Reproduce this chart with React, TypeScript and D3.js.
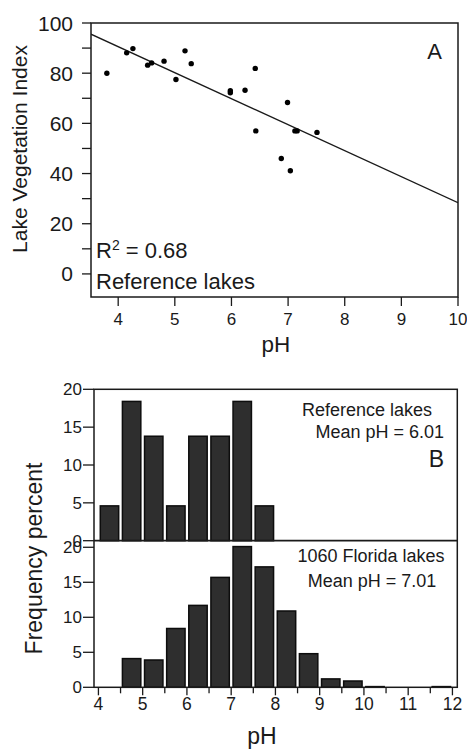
import React from "react";
import * as d3 from "d3";

// Panel A data: reference lakes
const refPH = [3.8, 4.15, 4.26, 4.52, 4.59, 4.81, 5.02, 5.18, 5.29, 5.98, 5.98, 6.24, 6.42, 6.43, 6.99, 6.88, 7.04, 7.12, 7.16, 7.51];
const refLVI = [80, 88.1, 89.8, 83.2, 84.1, 84.8, 77.5, 88.9, 83.8, 73.0, 72.2, 73.2, 81.9, 57.0, 68.3, 46.0, 41.1, 57.0, 57.0, 56.4];
const fitIntercept = 132.0;
const fitSlope = -10.36;
const aYTicks = [0, 10, 20, 30, 40, 50, 60, 70, 80, 90, 100];
const aXTicks = [4, 5, 6, 7, 8, 9, 10];

// Panel B data: histograms (bins of 0.5 pH starting at bin start)
const refBinStart = [4.0, 4.5, 5.0, 5.5, 6.0, 6.5, 7.0, 7.5];
const refFreq = [4.6, 18.4, 13.8, 4.6, 13.8, 13.8, 18.4, 4.6];
const flBinStart = [4.5, 5.0, 5.5, 6.0, 6.5, 7.0, 7.5, 8.0, 8.5, 9.0, 9.5, 10.0, 10.5, 11.0, 11.5];
const flFreq = [4.1, 3.9, 8.4, 11.7, 15.7, 20.1, 17.2, 10.9, 4.8, 1.2, 0.9, 0.1, 0, 0, 0.1];
const bYTicks = [0, 5, 10, 15, 20];
const bXTicks = [4, 5, 6, 7, 8, 9, 10, 11, 12];
const bXMinor = [4.5, 5.5, 6.5, 7.5, 8.5, 9.5, 10.5, 11.5];

const FONT = "'Liberation Sans', Arial, Helvetica, sans-serif";
const INK = "#1a1a1a";

export default function App() {
  // Panel A scales
  const ax = d3.scaleLinear().domain([3.52, 10]).range([91, 458]);
  const ay = d3.scaleLinear().domain([-9.2, 100]).range([297, 23]);
  const lineGen = d3
    .line<number>()
    .x((d) => ax(d))
    .y((d) => ay(fitIntercept + fitSlope * d));
  const fitPath = lineGen(ax.domain()) || "";

  // Panel B scales
  const bx = d3.scaleLinear().domain([3.9, 12.11]).range([94, 457.3]);
  const byTop = d3.scaleLinear().domain([0, 20]).range([540.7, 389.3]);
  const byBot = d3.scaleLinear().domain([0, 20.94]).range([687.3, 540.7]);
  const binW = 0.5;
  const inset = 0.042;

  return (
    <svg width={467} height={749} style={{ display: "block", position: "absolute", left: 0, top: 0 }} fontFamily={FONT}>
      <rect x={0} y={0} width={467} height={749} fill="#fff" />

      {/* ---------- Panel A ---------- */}
      <rect x={ax.range()[0]} y={ay.range()[1]} width={ax.range()[1] - ax.range()[0]} height={ay.range()[0] - ay.range()[1]} fill="none" stroke={INK} strokeWidth={1.5} />
      {aYTicks.map((t) => (
        <g key={"ayt" + t}>
          <line x1={ax.range()[0] - 9} x2={ax.range()[0]} y1={ay(t)} y2={ay(t)} stroke={INK} strokeWidth={1.3} />
          {t % 20 === 0 && (
            <text x={73} y={ay(t)} dy="0.36em" textAnchor="end" fontSize={21} fill={INK}>
              {t}
            </text>
          )}
        </g>
      ))}
      {aXTicks.map((t) => (
        <g key={"axt" + t}>
          <line x1={ax(t)} x2={ax(t)} y1={ay.range()[0]} y2={ay.range()[0] + 9} stroke={INK} strokeWidth={1.3} />
          <text x={ax(t)} y={325} textAnchor="middle" fontSize={17} fill={INK}>
            {t}
          </text>
        </g>
      ))}
      <defs>
        <clipPath id="clipA">
          <rect x={ax.range()[0]} y={ay.range()[1]} width={ax.range()[1] - ax.range()[0]} height={ay.range()[0] - ay.range()[1]} />
        </clipPath>
      </defs>
      <path d={fitPath} fill="none" stroke={INK} strokeWidth={1.3} clipPath="url(#clipA)" />
      {refPH.map((p, i) => (
        <circle key={"pt" + i} cx={ax(p)} cy={ay(refLVI[i])} r={2.7} fill="#000" />
      ))}
      <text x={442} y={59} textAnchor="end" fontSize={22} fill={INK}>A</text>
      <text x={96} y={258} fontSize={22} fill={INK}>
        R<tspan dy={-8} fontSize={14}>2</tspan>
        <tspan dy={8}> = 0.68</tspan>
      </text>
      <text x={96} y={288.5} fontSize={22} fill={INK}>Reference lakes</text>
      <text x={276} y={351.5} textAnchor="middle" fontSize={22.5} fill={INK}>pH</text>
      <text transform="translate(27,149) rotate(-90)" textAnchor="middle" fontSize={21} fill={INK}>
        Lake Vegetation Index
      </text>

      {/* ---------- Panel B ---------- */}
      {refBinStart.map((b, i) => (
        <rect
          key={"rb" + i}
          x={bx(b + inset)}
          y={byTop(refFreq[i])}
          width={bx(b + binW - inset) - bx(b + inset)}
          height={byTop(0) - byTop(refFreq[i])}
          fill="#2e2e2e"
          stroke="#0d0d0d"
          strokeWidth={1.5}
        />
      ))}
      {flBinStart.map((b, i) => (
        <rect
          key={"fb" + i}
          x={bx(b + inset)}
          y={byBot(flFreq[i])}
          width={bx(b + binW - inset) - bx(b + inset)}
          height={byBot(0) - byBot(flFreq[i])}
          fill="#2e2e2e"
          stroke="#0d0d0d"
          strokeWidth={1.5}
        />
      ))}
      {/* frame */}
      <rect x={bx.range()[0]} y={byTop.range()[1]} width={bx.range()[1] - bx.range()[0]} height={byBot.range()[0] - byTop.range()[1]} fill="none" stroke={INK} strokeWidth={1.5} />
      <line x1={bx.range()[0]} x2={bx.range()[1]} y1={byTop(0)} y2={byTop(0)} stroke={INK} strokeWidth={1.8} />
      {bYTicks.map((t) => (
        <g key={"byt" + t}>
          <line x1={83} x2={94} y1={byTop(t)} y2={byTop(t)} stroke={INK} strokeWidth={1.3} />
          <text x={82} y={byTop(t)} dy="0.36em" textAnchor="end" fontSize={17} fill={INK}>{t}</text>
          <line x1={83} x2={94} y1={byBot(t)} y2={byBot(t)} stroke={INK} strokeWidth={1.3} />
          <text x={82} y={byBot(t)} dy="0.36em" textAnchor="end" fontSize={17} fill={INK}>{t}</text>
        </g>
      ))}
      {bXTicks.map((t) => (
        <g key={"bxt" + t}>
          <line x1={bx(t)} x2={bx(t)} y1={byBot(0)} y2={byBot(0) + 8} stroke={INK} strokeWidth={1.3} />
          <text x={bx(t)} y={710} textAnchor="middle" fontSize={17.5} fill={INK}>{t}</text>
        </g>
      ))}
      {bXMinor.map((t) => (
        <line key={"bxm" + t} x1={bx(t)} x2={bx(t)} y1={byBot(0)} y2={byBot(0) + 6} stroke={INK} strokeWidth={1.3} />
      ))}
      <text x={432} y={415.7} textAnchor="end" fontSize={18} fill={INK}>Reference lakes</text>
      <text x={444} y={438.3} textAnchor="end" fontSize={18} fill={INK}>Mean pH = 6.01</text>
      <text x={444} y={466.7} textAnchor="end" fontSize={23} fill={INK}>B</text>
      <text x={371} y={562.3} textAnchor="middle" fontSize={18} fill={INK}>1060 Florida lakes</text>
      <text x={372} y={587.3} textAnchor="middle" fontSize={18} fill={INK}>Mean pH = 7.01</text>
      <text x={262} y={744} textAnchor="middle" fontSize={23} fill={INK}>pH</text>
      <text transform="translate(42,558.5) rotate(-90)" textAnchor="middle" fontSize={23} fill={INK}>
        Frequency percent
      </text>
    </svg>
  );
}
